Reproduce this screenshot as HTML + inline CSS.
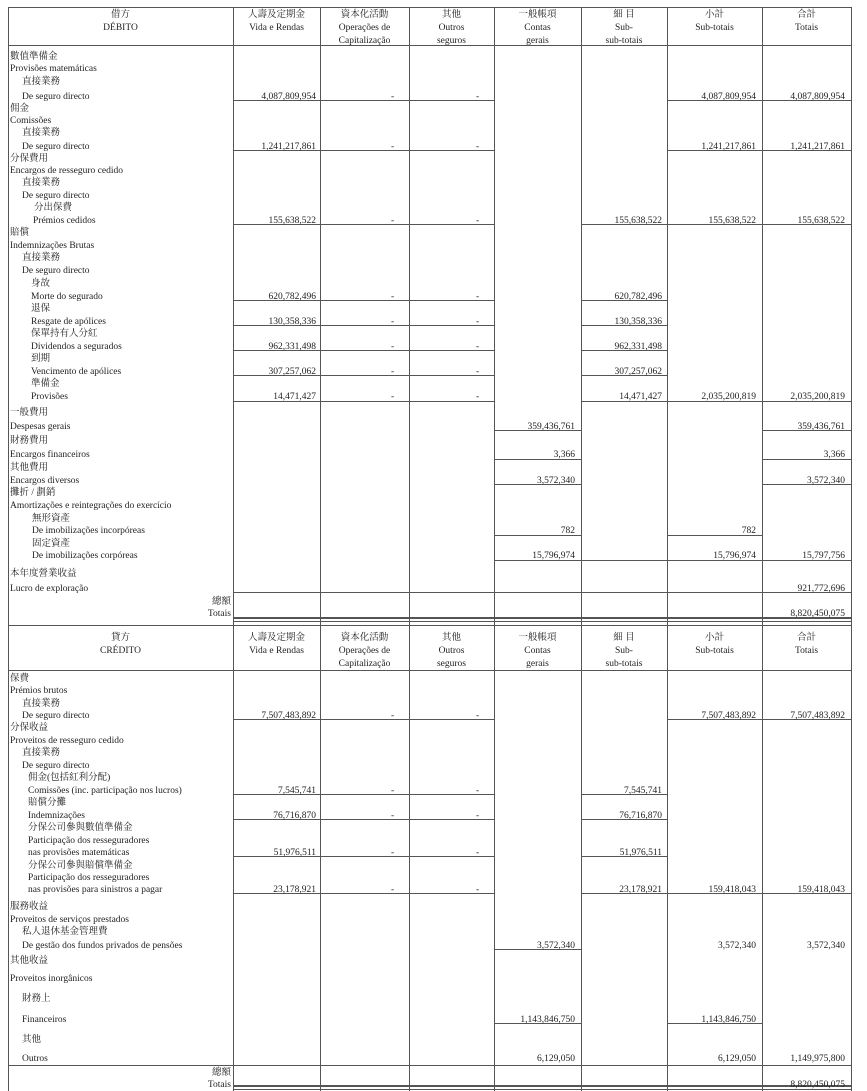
<!DOCTYPE html>
<html><head><meta charset="utf-8"><style>
body{margin:0;background:#fff;width:867px;height:1091px;position:relative;overflow:hidden}
.t{position:absolute;font-family:"Liberation Serif","Noto Serif CJK SC",serif;font-size:9.5px;line-height:12px;white-space:nowrap;color:#222;transform:translateY(-4px)}
.c{text-align:center}
.r{text-align:right}
.h{position:absolute;height:1px;background:#555}
.v{position:absolute;width:1px;background:#555;top:7px;height:1084px}
</style></head><body>
<div class="v" style="left:8px"></div><div class="v" style="left:233px"></div><div class="v" style="left:320px"></div><div class="v" style="left:409px"></div><div class="v" style="left:494px"></div><div class="v" style="left:581px"></div><div class="v" style="left:667px"></div><div class="v" style="left:762px"></div><div class="v" style="left:851px"></div>
<div class="h" style="top:7px;left:8px;width:844px"></div>
<div class="h" style="top:45px;left:8px;width:844px"></div>
<div class="h" style="top:100px;left:233px;width:261px"></div><div class="h" style="top:100px;left:667px;width:185px"></div>
<div class="h" style="top:150px;left:233px;width:261px"></div><div class="h" style="top:150px;left:667px;width:185px"></div>
<div class="h" style="top:224px;left:233px;width:261px"></div><div class="h" style="top:224px;left:581px;width:271px"></div>
<div class="h" style="top:300px;left:233px;width:261px"></div><div class="h" style="top:300px;left:581px;width:86px"></div>
<div class="h" style="top:325px;left:233px;width:261px"></div><div class="h" style="top:325px;left:581px;width:86px"></div>
<div class="h" style="top:350px;left:233px;width:261px"></div><div class="h" style="top:350px;left:581px;width:86px"></div>
<div class="h" style="top:375px;left:233px;width:261px"></div><div class="h" style="top:375px;left:581px;width:86px"></div>
<div class="h" style="top:401px;left:233px;width:261px"></div><div class="h" style="top:401px;left:581px;width:271px"></div>
<div class="h" style="top:430px;left:494px;width:87px"></div><div class="h" style="top:430px;left:762px;width:90px"></div>
<div class="h" style="top:459px;left:494px;width:87px"></div><div class="h" style="top:459px;left:762px;width:90px"></div>
<div class="h" style="top:484px;left:494px;width:87px"></div><div class="h" style="top:484px;left:762px;width:90px"></div>
<div class="h" style="top:535px;left:494px;width:87px"></div><div class="h" style="top:535px;left:667px;width:95px"></div>
<div class="h" style="top:560px;left:494px;width:358px"></div>
<div class="h" style="top:592px;left:233px;width:619px"></div>
<div class="h" style="top:617px;left:233px;width:619px;height:2px"></div>
<div class="h" style="top:621px;left:233px;width:619px"></div>
<div class="h" style="top:625px;left:8px;width:844px"></div>
<div class="h" style="top:670px;left:8px;width:844px"></div>
<div class="h" style="top:719px;left:233px;width:261px"></div><div class="h" style="top:719px;left:667px;width:185px"></div>
<div class="h" style="top:794px;left:233px;width:261px"></div><div class="h" style="top:794px;left:581px;width:86px"></div>
<div class="h" style="top:819px;left:233px;width:261px"></div><div class="h" style="top:819px;left:581px;width:86px"></div>
<div class="h" style="top:856px;left:233px;width:261px"></div><div class="h" style="top:856px;left:581px;width:86px"></div>
<div class="h" style="top:893px;left:233px;width:261px"></div><div class="h" style="top:893px;left:581px;width:271px"></div>
<div class="h" style="top:949px;left:494px;width:87px"></div>
<div class="h" style="top:1023px;left:494px;width:87px"></div><div class="h" style="top:1023px;left:667px;width:95px"></div>
<div class="h" style="top:1065px;left:8px;width:844px"></div>
<div class="h" style="top:1085px;left:233px;width:619px;height:2px"></div>
<div class="h" style="top:1089px;left:233px;width:619px"></div>

<div class="t c" style="left:8px;width:225px;top:13px">借方</div><div class="t c" style="left:8px;width:225px;top:26px">DÉBITO</div>
<div class="t c" style="left:233px;width:87px;top:13px">人壽及定期金</div><div class="t c" style="left:233px;width:87px;top:26px">Vida e Rendas</div>
<div class="t c" style="left:320px;width:89px;top:13px">資本化活動</div><div class="t c" style="left:320px;width:89px;top:26px">Operações de</div><div class="t c" style="left:320px;width:89px;top:39px">Capitalização</div>
<div class="t c" style="left:409px;width:85px;top:13px">其他</div><div class="t c" style="left:409px;width:85px;top:26px">Outros</div><div class="t c" style="left:409px;width:85px;top:39px">seguros</div>
<div class="t c" style="left:494px;width:87px;top:13px">一般帳項</div><div class="t c" style="left:494px;width:87px;top:26px">Contas</div><div class="t c" style="left:494px;width:87px;top:39px">gerais</div>
<div class="t c" style="left:581px;width:86px;top:13px">細 目</div><div class="t c" style="left:581px;width:86px;top:26px">Sub-</div><div class="t c" style="left:581px;width:86px;top:39px">sub-totais</div>
<div class="t c" style="left:667px;width:95px;top:13px">小計</div><div class="t c" style="left:667px;width:95px;top:26px">Sub-totais</div>
<div class="t c" style="left:762px;width:89px;top:13px">合計</div><div class="t c" style="left:762px;width:89px;top:26px">Totais</div>

<div class="t" style="left:10px;top:55px">數值準備金</div>
<div class="t" style="left:10px;top:67px">Provisões matemáticas</div>
<div class="t" style="left:22px;top:80px">直接業務</div>
<div class="t" style="left:22px;top:95px">De seguro directo</div>
<div class="t" style="left:10px;top:107px">佣金</div>
<div class="t" style="left:10px;top:119px">Comissões</div>
<div class="t" style="left:22px;top:131px">直接業務</div>
<div class="t" style="left:22px;top:145px">De seguro directo</div>
<div class="t" style="left:10px;top:157px">分保費用</div>
<div class="t" style="left:10px;top:169px">Encargos de resseguro cedido</div>
<div class="t" style="left:22px;top:181px">直接業務</div>
<div class="t" style="left:22px;top:194px">De seguro directo</div>
<div class="t" style="left:34px;top:206px">分出保費</div>
<div class="t" style="left:33px;top:219px">Prémios cedidos</div>
<div class="t" style="left:10px;top:231px">賠償</div>
<div class="t" style="left:10px;top:244px">Indemnizações Brutas</div>
<div class="t" style="left:22px;top:256px">直接業務</div>
<div class="t" style="left:22px;top:269px">De seguro directo</div>
<div class="t" style="left:31px;top:282px">身故</div>
<div class="t" style="left:31px;top:295px">Morte do segurado</div>
<div class="t" style="left:31px;top:307px">退保</div>
<div class="t" style="left:31px;top:320px">Resgate de apólices</div>
<div class="t" style="left:31px;top:332px">保單持有人分紅</div>
<div class="t" style="left:31px;top:345px">Dividendos a segurados</div>
<div class="t" style="left:31px;top:357px">到期</div>
<div class="t" style="left:31px;top:370px">Vencimento de apólices</div>
<div class="t" style="left:31px;top:382px">準備金</div>
<div class="t" style="left:31px;top:395px">Provisões</div>
<div class="t" style="left:10px;top:411px">一般費用</div>
<div class="t" style="left:10px;top:425px">Despesas gerais</div>
<div class="t" style="left:10px;top:439px">財務費用</div>
<div class="t" style="left:10px;top:453px">Encargos financeiros</div>
<div class="t" style="left:10px;top:466px">其他費用</div>
<div class="t" style="left:10px;top:479px">Encargos diversos</div>
<div class="t" style="left:10px;top:491px">攤折 / 劃銷</div>
<div class="t" style="left:10px;top:504px">Amortizações e reintegrações do exercício</div>
<div class="t" style="left:32px;top:517px">無形資產</div>
<div class="t" style="left:32px;top:529px">De imobilizações incorpóreas</div>
<div class="t" style="left:32px;top:542px">固定資產</div>
<div class="t" style="left:32px;top:554px">De imobilizações corpóreas</div>
<div class="t" style="left:10px;top:572px">本年度營業收益</div>
<div class="t" style="left:10px;top:587px">Lucro de exploração</div>
<div class="t r" style="right:636px;top:600px">總額</div>
<div class="t r" style="right:636px;top:612px">Totais</div>

<div class="t r" style="right:551px;top:95px">4,087,809,954</div><div class="t" style="left:391px;top:95px">-</div><div class="t" style="left:476px;top:95px">-</div><div class="t r" style="right:111px;top:95px">4,087,809,954</div><div class="t r" style="right:22px;top:95px">4,087,809,954</div>
<div class="t r" style="right:551px;top:145px">1,241,217,861</div><div class="t" style="left:391px;top:145px">-</div><div class="t" style="left:476px;top:145px">-</div><div class="t r" style="right:111px;top:145px">1,241,217,861</div><div class="t r" style="right:22px;top:145px">1,241,217,861</div>
<div class="t r" style="right:551px;top:219px">155,638,522</div><div class="t" style="left:391px;top:219px">-</div><div class="t" style="left:476px;top:219px">-</div><div class="t r" style="right:205px;top:219px">155,638,522</div><div class="t r" style="right:111px;top:219px">155,638,522</div><div class="t r" style="right:22px;top:219px">155,638,522</div>
<div class="t r" style="right:551px;top:295px">620,782,496</div><div class="t" style="left:391px;top:295px">-</div><div class="t" style="left:476px;top:295px">-</div><div class="t r" style="right:205px;top:295px">620,782,496</div>
<div class="t r" style="right:551px;top:320px">130,358,336</div><div class="t" style="left:391px;top:320px">-</div><div class="t" style="left:476px;top:320px">-</div><div class="t r" style="right:205px;top:320px">130,358,336</div>
<div class="t r" style="right:551px;top:345px">962,331,498</div><div class="t" style="left:391px;top:345px">-</div><div class="t" style="left:476px;top:345px">-</div><div class="t r" style="right:205px;top:345px">962,331,498</div>
<div class="t r" style="right:551px;top:370px">307,257,062</div><div class="t" style="left:391px;top:370px">-</div><div class="t" style="left:476px;top:370px">-</div><div class="t r" style="right:205px;top:370px">307,257,062</div>
<div class="t r" style="right:551px;top:395px">14,471,427</div><div class="t" style="left:391px;top:395px">-</div><div class="t" style="left:476px;top:395px">-</div><div class="t r" style="right:205px;top:395px">14,471,427</div><div class="t r" style="right:111px;top:395px">2,035,200,819</div><div class="t r" style="right:22px;top:395px">2,035,200,819</div>
<div class="t r" style="right:292px;top:425px">359,436,761</div><div class="t r" style="right:22px;top:425px">359,436,761</div>
<div class="t r" style="right:292px;top:453px">3,366</div><div class="t r" style="right:22px;top:453px">3,366</div>
<div class="t r" style="right:292px;top:479px">3,572,340</div><div class="t r" style="right:22px;top:479px">3,572,340</div>
<div class="t r" style="right:292px;top:529px">782</div><div class="t r" style="right:111px;top:529px">782</div>
<div class="t r" style="right:292px;top:554px">15,796,974</div><div class="t r" style="right:111px;top:554px">15,796,974</div><div class="t r" style="right:22px;top:554px">15,797,756</div>
<div class="t r" style="right:22px;top:587px">921,772,696</div>
<div class="t r" style="right:22px;top:612px">8,820,450,075</div>

<div class="t c" style="left:8px;width:225px;top:636px">貸方</div><div class="t c" style="left:8px;width:225px;top:649px">CRÉDITO</div>
<div class="t c" style="left:233px;width:87px;top:636px">人壽及定期金</div><div class="t c" style="left:233px;width:87px;top:649px">Vida e Rendas</div>
<div class="t c" style="left:320px;width:89px;top:636px">資本化活動</div><div class="t c" style="left:320px;width:89px;top:649px">Operações de</div><div class="t c" style="left:320px;width:89px;top:662px">Capitalização</div>
<div class="t c" style="left:409px;width:85px;top:636px">其他</div><div class="t c" style="left:409px;width:85px;top:649px">Outros</div><div class="t c" style="left:409px;width:85px;top:662px">seguros</div>
<div class="t c" style="left:494px;width:87px;top:636px">一般帳項</div><div class="t c" style="left:494px;width:87px;top:649px">Contas</div><div class="t c" style="left:494px;width:87px;top:662px">gerais</div>
<div class="t c" style="left:581px;width:86px;top:636px">細 目</div><div class="t c" style="left:581px;width:86px;top:649px">Sub-</div><div class="t c" style="left:581px;width:86px;top:662px">sub-totais</div>
<div class="t c" style="left:667px;width:95px;top:636px">小計</div><div class="t c" style="left:667px;width:95px;top:649px">Sub-totais</div>
<div class="t c" style="left:762px;width:89px;top:636px">合計</div><div class="t c" style="left:762px;width:89px;top:649px">Totais</div>

<div class="t" style="left:10px;top:677px">保費</div>
<div class="t" style="left:10px;top:689px">Prémios brutos</div>
<div class="t" style="left:22px;top:702px">直接業務</div>
<div class="t" style="left:22px;top:714px">De seguro directo</div>
<div class="t" style="left:10px;top:726px">分保收益</div>
<div class="t" style="left:10px;top:739px">Proveitos de resseguro cedido</div>
<div class="t" style="left:22px;top:751px">直接業務</div>
<div class="t" style="left:22px;top:764px">De seguro directo</div>
<div class="t" style="left:28px;top:776px">佣金(包括紅利分配)</div>
<div class="t" style="left:28px;top:789px">Comissões (inc. participação nos lucros)</div>
<div class="t" style="left:28px;top:801px">賠償分攤</div>
<div class="t" style="left:28px;top:814px">Indemnizações</div>
<div class="t" style="left:28px;top:826px">分保公司參與數值準備金</div>
<div class="t" style="left:28px;top:839px">Participação dos resseguradores</div>
<div class="t" style="left:28px;top:851px">nas provisões matemáticas</div>
<div class="t" style="left:28px;top:864px">分保公司參與賠償準備金</div>
<div class="t" style="left:28px;top:876px">Participação dos resseguradores</div>
<div class="t" style="left:28px;top:888px">nas provisões para sinistros a pagar</div>
<div class="t" style="left:10px;top:905px">服務收益</div>
<div class="t" style="left:10px;top:918px">Proveitos de serviços prestados</div>
<div class="t" style="left:22px;top:930px">私人退休基金管理費</div>
<div class="t" style="left:22px;top:944px">De gestão dos fundos privados de pensões</div>
<div class="t" style="left:10px;top:959px">其他收益</div>
<div class="t" style="left:10px;top:977px">Proveitos inorgânicos</div>
<div class="t" style="left:22px;top:997px">財務上</div>
<div class="t" style="left:22px;top:1018px">Financeiros</div>
<div class="t" style="left:22px;top:1038px">其他</div>
<div class="t" style="left:22px;top:1057px">Outros</div>
<div class="t r" style="right:636px;top:1071px">總額</div>
<div class="t r" style="right:636px;top:1083px">Totais</div>

<div class="t r" style="right:551px;top:714px">7,507,483,892</div><div class="t" style="left:391px;top:714px">-</div><div class="t" style="left:476px;top:714px">-</div><div class="t r" style="right:111px;top:714px">7,507,483,892</div><div class="t r" style="right:22px;top:714px">7,507,483,892</div>
<div class="t r" style="right:551px;top:789px">7,545,741</div><div class="t" style="left:391px;top:789px">-</div><div class="t" style="left:476px;top:789px">-</div><div class="t r" style="right:205px;top:789px">7,545,741</div>
<div class="t r" style="right:551px;top:814px">76,716,870</div><div class="t" style="left:391px;top:814px">-</div><div class="t" style="left:476px;top:814px">-</div><div class="t r" style="right:205px;top:814px">76,716,870</div>
<div class="t r" style="right:551px;top:851px">51,976,511</div><div class="t" style="left:391px;top:851px">-</div><div class="t" style="left:476px;top:851px">-</div><div class="t r" style="right:205px;top:851px">51,976,511</div>
<div class="t r" style="right:551px;top:888px">23,178,921</div><div class="t" style="left:391px;top:888px">-</div><div class="t" style="left:476px;top:888px">-</div><div class="t r" style="right:205px;top:888px">23,178,921</div><div class="t r" style="right:111px;top:888px">159,418,043</div><div class="t r" style="right:22px;top:888px">159,418,043</div>
<div class="t r" style="right:292px;top:944px">3,572,340</div><div class="t r" style="right:111px;top:944px">3,572,340</div><div class="t r" style="right:22px;top:944px">3,572,340</div>
<div class="t r" style="right:292px;top:1018px">1,143,846,750</div><div class="t r" style="right:111px;top:1018px">1,143,846,750</div>
<div class="t r" style="right:292px;top:1057px">6,129,050</div><div class="t r" style="right:111px;top:1057px">6,129,050</div><div class="t r" style="right:22px;top:1057px">1,149,975,800</div>
<div class="t r" style="right:22px;top:1083px">8,820,450,075</div>
</body></html>
